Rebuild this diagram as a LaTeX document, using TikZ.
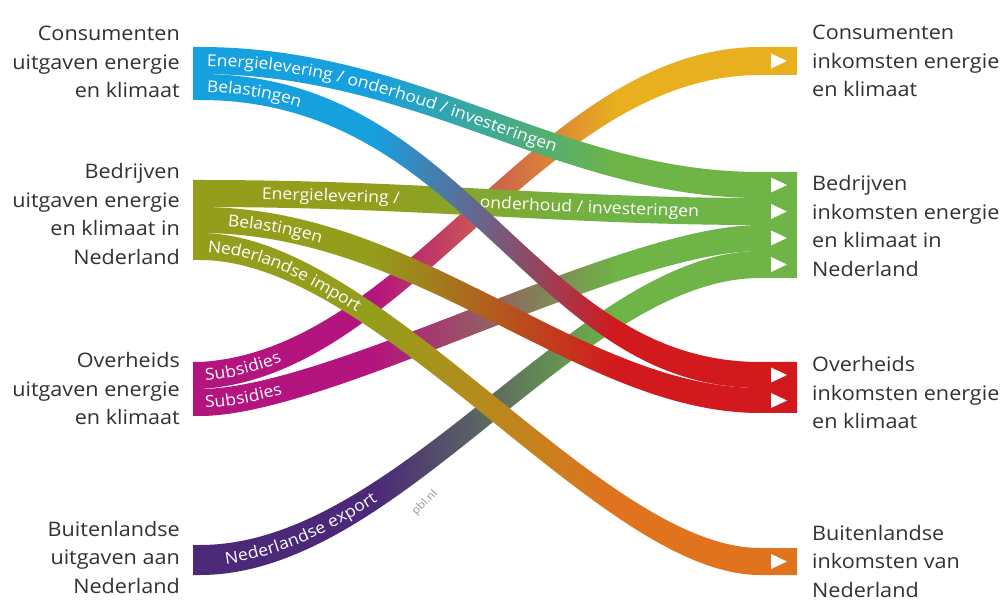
\documentclass[tikz,border=0pt]{standalone}
\usepackage{fontspec}
\setmainfont{Open Sans}[FakeStretch=1.08]
\usetikzlibrary{decorations.text}
\definecolor{cblue}{RGB}{22,160,222}
\definecolor{colive}{RGB}{148,157,28}
\definecolor{cmag}{RGB}{180,20,125}
\definecolor{cpurp}{RGB}{75,40,120}
\definecolor{cgold}{RGB}{232,175,30}
\definecolor{cgreen}{RGB}{110,180,70}
\definecolor{cred}{RGB}{210,25,30}
\definecolor{corange}{RGB}{225,115,30}
\definecolor{ctext}{RGB}{50,50,50}
\colorlet{bandA}{cblue}
\colorlet{bandB}{cgreen}
\pgfdeclarehorizontalshading[bandA,bandB]{bandgrad}{100bp}{color(0bp)=(bandA); color(25bp)=(bandA); color(40bp)=(bandA); color(60bp)=(bandB); color(75bp)=(bandB); color(100bp)=(bandB)}
\newcommand\bandfont{\fontsize{16.3}{17}\selectfont}
% colA colB yTL yBL yTR yBR ctrl1 ctrl2
\newcommand\band[8]{%
  \colorlet{bandA}{#1}\colorlet{bandB}{#2}%
  \shade[shading=bandgrad] (193,#3) -- (200,#3) .. controls +(#7) and +(#8) .. (760,#5) -- (797,#5) -- (797,#6) -- (760,#6) .. controls +(#8) and +(#7) .. (200,#4) -- (193,#4) -- cycle;}
% text indent yL yR ctrl1 ctrl2
\newcommand\blabel[6]{%
  \path[decorate,decoration={text along path, text={|\bandfont|#1}, text color=white, text align={left indent=#2pt}, raise=-5.5pt}] (193,#3) -- (200,#3) .. controls +(#5) and +(#6) .. (760,#4) -- (797,#4);}
\newcommand\tri[1]{\fill[white] (771,#1-7.5) -- (787,#1) -- (771,#1+7.5) -- cycle;}
\begin{document}
\begin{tikzpicture}[x=1pt,y=-1pt,
  bar/.style={rectangle, draw=none, inner sep=0pt, outer sep=0pt, anchor=north west},
  lab/.style={font=\fontsize{20}{28.5}\selectfont, text=ctext, inner sep=0pt, align=right, anchor=east},
  rlab/.style={font=\fontsize{20}{28.5}\selectfont, text=ctext, inner sep=0pt, align=left, anchor=west}]
\useasboundingbox (0,0) rectangle (1002,601);
\fill[white] (0,0) rectangle (1002,601);

% S6 Subsidies -> Consumenten inkomsten
\band{cmag}{cgold}{362}{389}{47}{75}{210,-12}{-220,0}
\blabel{Subsidies}{12}{375.5}{61}{210,-12}{-220,0}
% S7 Subsidies -> Bedrijven
\band{cmag}{cgreen}{389}{416}{225}{251}{130,0}{-140,0}
\blabel{Subsidies}{12}{402.5}{238}{130,0}{-140,0}
% S8 Nederlandse export
\band{cpurp}{cgreen}{545}{575}{251}{278}{200,0}{-180,0}
\blabel{Nederlandse export}{32}{560}{264.5}{200,0}{-180,0}
% S5 Nederlandse import
\band{colive}{corange}{233}{260}{548}{575}{180,0}{-160,0}
\blabel{Nederlandse import}{15}{246.5}{561.5}{180,0}{-160,0}
% S4 Belastingen (bedrijven)
\band{colive}{cred}{207}{233}{388}{413}{220,0}{-180,0}
\blabel{Belastingen}{35}{220}{400.5}{220,0}{-180,0}
% S3 Energielevering bedrijven
\band{colive}{cgreen}{180}{207}{198}{225}{220,0}{-200,0}
\blabel{Energielevering /}{69}{193.5}{211.5}{220,0}{-200,0}
\blabel{onderhoud / investeringen}{287}{193.5}{211.5}{220,0}{-200,0}
% S1 Energielevering consumenten
\band{cblue}{cgreen}{47}{74}{172}{198}{220,0}{-200,0}
\blabel{Energielevering / onderhoud / investeringen}{14}{60.5}{185}{220,0}{-200,0}
% S2 Belastingen consumenten
\band{cblue}{cred}{74}{100}{362}{388}{270,0}{-230,0}
\blabel{Belastingen}{14}{87}{375}{270,0}{-230,0}

% source bars
\node[bar, fill=cblue, minimum width=7pt, minimum height=53pt] (lcons) at (193,47) {};
\node[bar, fill=colive, minimum width=7pt, minimum height=80pt] (lbed) at (193,180) {};
\node[bar, fill=cmag, minimum width=7pt, minimum height=54pt] (lover) at (193,362) {};
\node[bar, fill=cpurp, minimum width=7pt, minimum height=30pt] (lbuit) at (193,545) {};
% target bars
\node[bar, fill=cgold, minimum width=37pt, minimum height=28pt] (rcons) at (760,47) {};
\node[bar, fill=cgreen, minimum width=37pt, minimum height=106pt] (rbed) at (760,172) {};
\node[bar, fill=cred, minimum width=37pt, minimum height=51pt] (rover) at (760,362) {};
\node[bar, fill=corange, minimum width=37pt, minimum height=27pt] (rbuit) at (760,548) {};
\tri{61}
\tri{185}\tri{211.5}\tri{238}\tri{264.5}
\tri{375}\tri{400.5}
\tri{561.5}

% watermark
\node[rotate=45, text=black!40, font=\fontsize{11}{11}\selectfont, inner sep=0pt] (pbl) at (425,503) {pbl.nl};

% left labels
\node[lab] (tlcons) at (180,62) {Consumenten\\uitgaven energie\\en klimaat};
\node[lab] (tlbed) at (180,214) {Bedrijven\\uitgaven energie\\en klimaat in\\Nederland};
\node[lab] (tlover) at (180,389) {Overheids\\uitgaven energie\\en klimaat};
\node[lab] (tlbuit) at (180,557) {Buitenlandse\\uitgaven aan\\Nederland};
% right labels
\node[rlab] (trcons) at (812,61) {Consumenten\\inkomsten energie\\en klimaat};
\node[rlab] (trbed) at (812,226) {Bedrijven\\inkomsten energie\\en klimaat in\\Nederland};
\node[rlab] (trover) at (812,393) {Overheids\\inkomsten energie\\en klimaat};
\node[rlab] (trbuit) at (812,561) {Buitenlandse\\inkomsten van\\Nederland};
\end{tikzpicture}
\end{document}
